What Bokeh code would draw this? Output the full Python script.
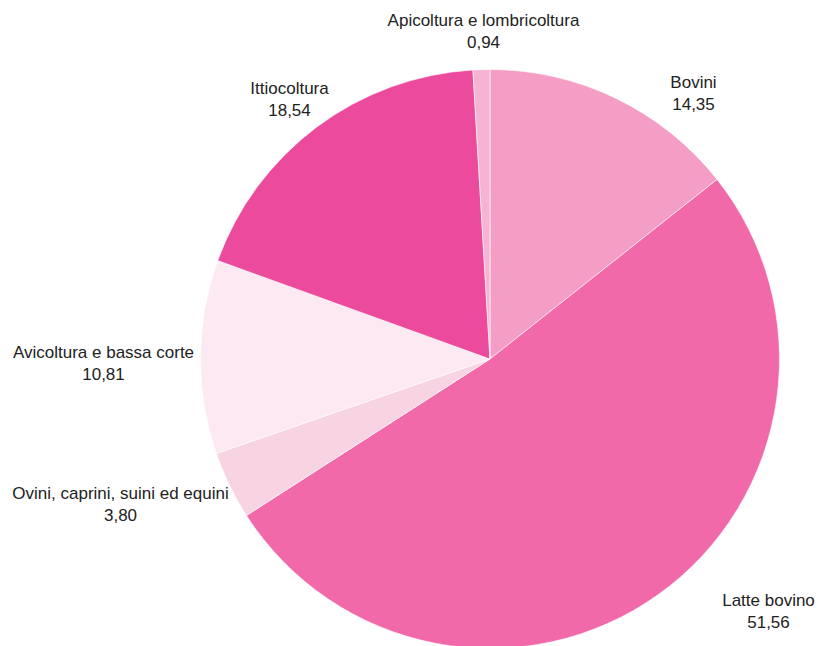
import math
from bokeh.plotting import figure
from bokeh.models import Range1d, ColumnDataSource
from bokeh.core.properties import value
from bokeh.embed import file_html
from bokeh.resources import INLINE

categories = ["Bovini", "Latte bovino", "Ovini, caprini, suini ed equini",
              "Avicoltura e bassa corte", "Ittiocoltura", "Apicoltura e lombricoltura"]
values = [14.35, 51.56, 3.80, 10.81, 18.54, 0.94]
value_labels = ["14,35", "51,56", "3,80", "10,81", "18,54", "0,94"]
colors = ["#F49EC6", "#F169A9", "#F8D4E2", "#FCE9F1", "#EC4A9C", "#F6B4D2"]
# label anchor positions (image pixel coords: x, y of first line)
label_x = [693, 768, 120, 103, 289, 483]
label_y = [82, 600, 493, 352, 88, 20]

W, H = 818, 646
p = figure(width=W, height=H, output_backend="svg", toolbar_location=None,
           x_range=Range1d(0, W), y_range=Range1d(0, H),
           min_border=0)
p.axis.visible = False
p.grid.visible = False
p.outline_line_color = None
p.background_fill_color = "white"

total = sum(values)
starts, ends = [], []
cum = 0.0
for v in values:
    starts.append(math.pi / 2 - 2 * math.pi * cum / total)
    cum += v
    ends.append(math.pi / 2 - 2 * math.pi * cum / total)

cx, cy, r = 489.5, 646 - 358.5, 289.5
src = ColumnDataSource(dict(start=starts, end=ends, color=colors))
p.wedge(x=cx, y=cy, radius=r, start_angle="start", end_angle="end",
        direction="clock", fill_color="color", line_color="white",
        line_width=0.6, source=src)

lsrc = ColumnDataSource(dict(x=label_x, y1=[646 - y for y in label_y],
                             y2=[646 - y - 21 for y in label_y],
                             name=categories, val=value_labels))
for col, ycol in (("name", "y1"), ("val", "y2")):
    p.text(x="x", y=ycol, text=col, source=lsrc, text_align="center",
           text_baseline="middle", text_font=value("Liberation Sans"),
           text_font_size="17px", text_color="#222222")

open("out.html", "w").write(file_html(p, INLINE))
